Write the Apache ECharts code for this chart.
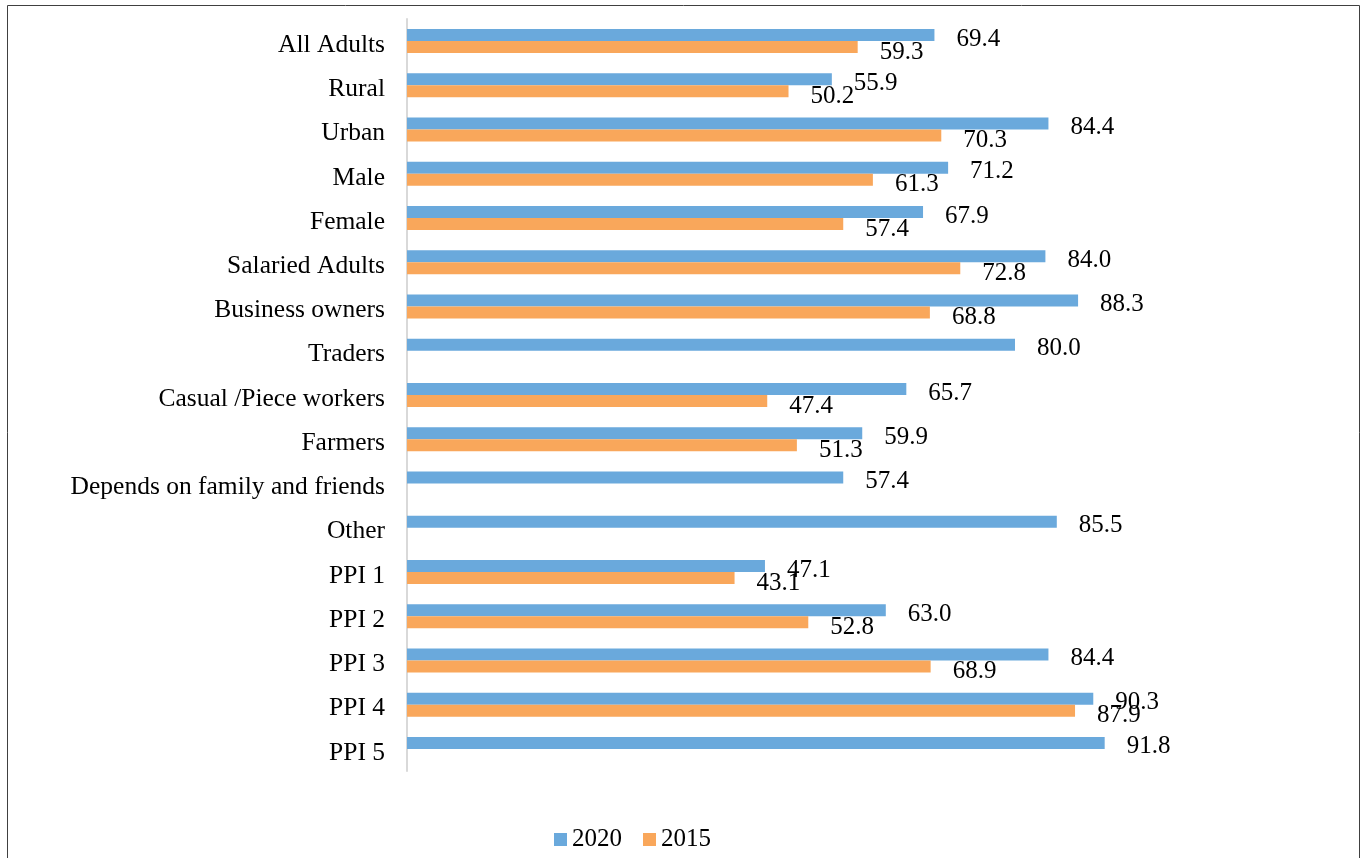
<!DOCTYPE html>
<html>
<head>
<meta charset="utf-8">
<script src="https://cdn.jsdelivr.net/npm/echarts@6/dist/echarts.min.js"></script>
<style>
html,body{margin:0;padding:0;background:#fff;}
#chart{width:1365px;height:858px;}
</style>
</head>
<body>
<div id="chart"></div>
<script>
const categories = ["All Adults","Rural","Urban","Male","Female","Salaried Adults","Business owners","Traders","Casual /Piece workers","Farmers","Depends on family and friends","Other","PPI 1","PPI 2","PPI 3","PPI 4","PPI 5"];
const values2020 = [69.4,55.9,84.4,71.2,67.9,84.0,88.3,80.0,65.7,59.9,57.4,85.5,47.1,63.0,84.4,90.3,91.8];
const values2015 = [59.3,50.2,70.3,61.3,57.4,72.8,68.8,null,47.4,51.3,null,null,43.1,52.8,68.9,87.9,null];
const seriesNames = ["2020","2015"];

const FONT = "'Liberation Serif', 'DejaVu Serif', serif";
const chart = echarts.init(document.getElementById('chart'), null, {renderer:'canvas'});
const labelCfg = (dy) => ({
  show: true, position: 'right', distance: 22, offset: [0, dy],
  color: '#000', fontFamily: FONT, fontSize: 25,
  formatter: p => (p.value == null ? '' : Number(p.value).toFixed(1))
});
chart.setOption({
  animation: false,
  backgroundColor: '#fff',
  graphic: [{
    type: 'rect', silent: true, z: -1,
    shape: {x: 7.5, y: 5.5, width: 1352, height: 900},
    style: {fill: 'none', stroke: '#404040', lineWidth: 1}
  }],
  grid: {left: 407, right: 198, top: 19, bottom: 87, containLabel: false},
  legend: {
    data: seriesNames, top: 822, left: 549,
    icon: 'rect', itemWidth: 13, itemHeight: 13, itemGap: 21,
    textStyle: {fontFamily: FONT, fontSize: 25, color: '#000'}
  },
  xAxis: {type: 'value', min: 0, max: 100, show: false, splitLine: {show: false}},
  yAxis: {
    type: 'category', data: categories, inverse: true,
    axisTick: {show: false},
    axisLine: {show: true, lineStyle: {color: '#d9d9d9', width: 2}},
    axisLabel: {
      margin: 22, color: '#000', fontFamily: FONT, fontSize: 25.5,
      formatter: v => '{c|' + v + '}',
      rich: {c: {fontFamily: FONT, fontSize: 25.5, color: '#000', lineHeight: 28, padding: [8, 0, 0, 0]}}
    }
  },
  series: [
    {name: seriesNames[0], type: 'bar', data: values2020, barWidth: 12, barGap: '0%',
     itemStyle: {color: '#6aa9dc'}, label: labelCfg(4)},
    {name: seriesNames[1], type: 'bar', data: values2015, barWidth: 12, barGap: '0%',
     itemStyle: {color: '#f9a75b'}, label: labelCfg(5)}
  ]
});
</script>
</body>
</html>
